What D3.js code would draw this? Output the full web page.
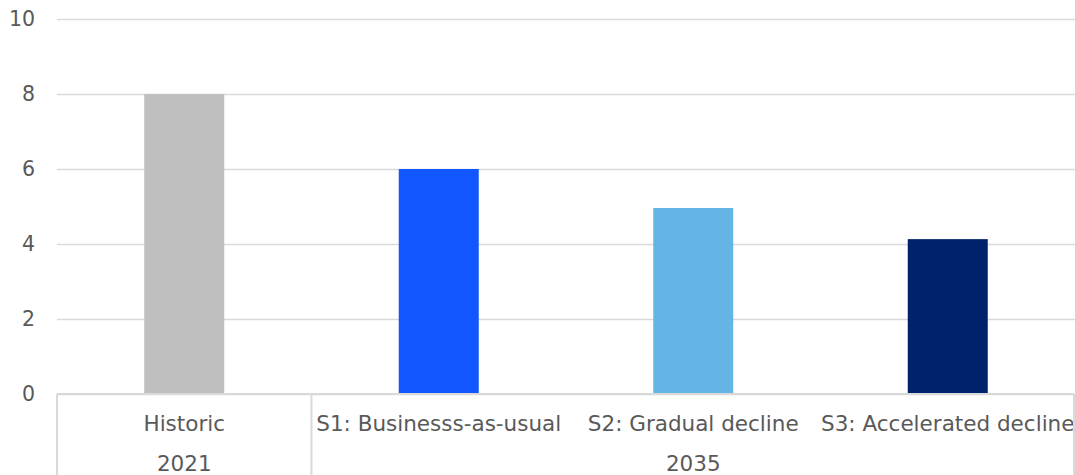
<!DOCTYPE html>
<html>
<head>
<meta charset="utf-8">
<script src="https://cdn.jsdelivr.net/npm/d3@7"></script>
<style>
  html, body { margin: 0; padding: 0; background: #ffffff; }
  svg { display: block; }
  text { font-family: "DejaVu Sans", Verdana, sans-serif; fill: #595959; }
</style>
</head>
<body>
<svg id="chart" width="1075" height="475"></svg>
<script>
// Scenario categories, their values and the year group each belongs to
const categories = ["Historic", "S1: Businesss-as-usual", "S2: Gradual decline", "S3: Accelerated decline"];
const values = [8, 6, 4.96, 4.13];
const colors = ["#bfbfbf", "#1256ff", "#64b5e6", "#00226a"];
const groups = [
  { label: "2021", members: ["Historic"] },
  { label: "2035", members: ["S1: Businesss-as-usual", "S2: Gradual decline", "S3: Accelerated decline"] }
];
const yTicks = [0, 2, 4, 6, 8, 10];

const svg = d3.select("#chart");
const plotLeft = 57, plotRight = 1075, plotTop = 19, plotBottom = 394;
const gridColor = "#d9d9d9";

const x = d3.scaleBand().domain(categories).range([plotLeft, plotRight]).paddingInner(0).paddingOuter(0);
const y = d3.scaleLinear().domain([0, 10]).range([plotBottom, plotTop]);
const barWidth = 80;

// Horizontal gridlines with tick labels
const yAxis = d3.axisLeft(y).tickValues(yTicks).tickSize(-(plotRight - plotLeft)).tickPadding(22);
const gy = svg.append("g").attr("transform", `translate(${plotLeft},0)`).call(yAxis);
gy.select(".domain").remove();
gy.selectAll(".tick line").attr("stroke", gridColor).attr("stroke-width", 1.5);
gy.selectAll(".tick text").attr("font-size", 20.5).style("fill", "#595959")
  .attr("font-family", "DejaVu Sans, Verdana, sans-serif");

// Bars
svg.append("g").selectAll("rect").data(categories).join("rect")
  .attr("x", d => x(d) + x.bandwidth() / 2 - barWidth / 2)
  .attr("width", barWidth)
  .attr("y", (d, i) => y(values[i]))
  .attr("height", (d, i) => y(0) - y(values[i]))
  .attr("fill", (d, i) => colors[i]);

// Baseline of the category axis
svg.append("line")
  .attr("x1", plotLeft).attr("x2", plotRight - 1)
  .attr("y1", y(0)).attr("y2", y(0))
  .attr("stroke", gridColor).attr("stroke-width", 2);

// Category labels
svg.append("g").selectAll("text").data(categories).join("text")
  .attr("x", d => x(d) + x.bandwidth() / 2)
  .attr("y", 431)
  .attr("text-anchor", "middle")
  .attr("font-size", 21.5)
  .text(d => d);

// Group boundaries and group labels
const groupEdges = [plotLeft];
groups.forEach(g => {
  const first = x(g.members[0]);
  const last = x(g.members[g.members.length - 1]) + x.bandwidth();
  groupEdges.push(Math.min(last, plotRight - 1));
  svg.append("text")
    .attr("x", (first + last) / 2)
    .attr("y", 471)
    .attr("text-anchor", "middle")
    .attr("font-size", 21.5)
    .text(g.label);
});
svg.append("g").selectAll("line").data(groupEdges).join("line")
  .attr("x1", d => d).attr("x2", d => d)
  .attr("y1", y(0)).attr("y2", 475)
  .attr("stroke", gridColor).attr("stroke-width", 2);
</script>
</body>
</html>
